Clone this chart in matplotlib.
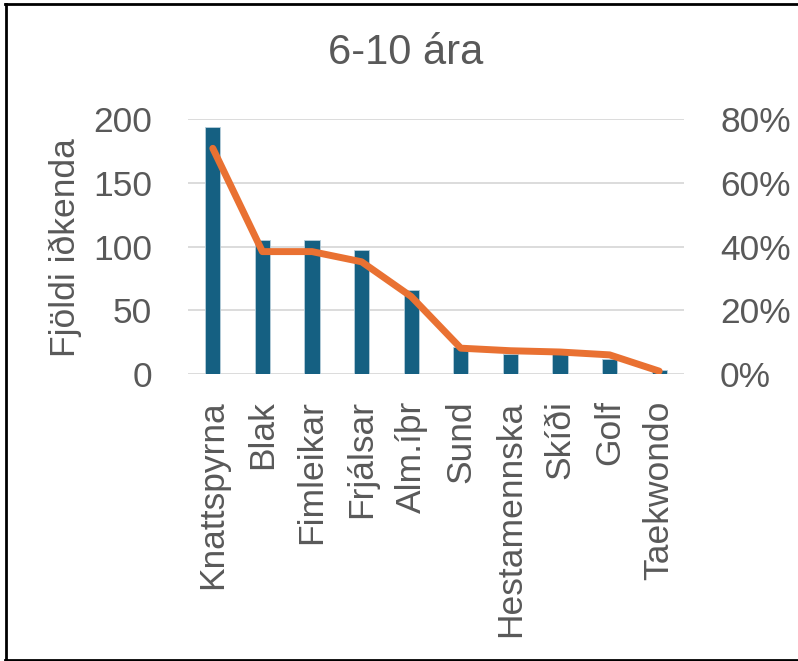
import numpy as np
import matplotlib
matplotlib.use("Agg")
import matplotlib.pyplot as plt
from matplotlib.ticker import FuncFormatter
from matplotlib.lines import Line2D

plt.rcParams['font.family'] = ['Liberation Sans', 'DejaVu Sans']

greinar = ['Knattspyrna', 'Blak', 'Fimleikar', 'Frjálsar', 'Alm.íþr',
           'Sund', 'Hestamennska', 'Skíði', 'Golf', 'Taekwondo']
idkendur = [194, 105, 105, 97, 66, 21, 16, 16, 12, 3]
hlutfall = [0.708, 0.384, 0.384, 0.352, 0.243, 0.081, 0.073, 0.069, 0.060, 0.009]

gray = '#595959'
blue = '#156082'
orange = '#E97132'

fig = plt.figure(figsize=(7.98, 6.61), dpi=100)
ax = fig.add_axes([188/798, 1-374/661, 496/798, 255/661])
x = np.arange(len(greinar))

ax.bar(x, idkendur, width=0.31, color=blue, edgecolor='#b8cfdb', linewidth=0.6, zorder=2)
ax.set_xlim(-0.5, len(greinar)-0.5)
ax.set_ylim(0, 200)
ax.set_yticks([0, 50, 100, 150, 200])
ax.grid(axis='y', color='#d9d9d9', linewidth=1.3, zorder=0)
ax.set_xticks(x)
ax.set_xticklabels(greinar, rotation=90, fontsize=25.5, color=gray)
ax.tick_params(axis='x', length=0, pad=19)
ax.tick_params(axis='y', length=0, pad=26, labelsize=25.5, labelcolor=gray)
for s in ax.spines.values():
    s.set_visible(False)

ax2 = ax.twinx()
ax2.plot(x, hlutfall, color=orange, linewidth=5, solid_capstyle='round',
         solid_joinstyle='round', zorder=3)
ax2.set_ylim(0, 0.8)
ax2.set_yticks([0, 0.2, 0.4, 0.6, 0.8])
ax2.yaxis.set_major_formatter(FuncFormatter(lambda v, p: f'{v*100:.0f}%'))
ax2.tick_params(axis='y', length=0, pad=26, labelsize=25.5, labelcolor=gray)
for s in ax2.spines.values():
    s.set_visible(False)

fig.text(406/798, 1-53/661, '6-10 ára', ha='center', va='center', fontsize=30, color=gray)
fig.text(65/798, 1-248/661, 'Fjöldi iðkenda', rotation=90, ha='center', va='center',
         fontsize=25.5, color=gray)

# ramminn utan um
fig.add_artist(Line2D([6/798, 6/798], [1-4/661, 1-659/661], color='black', lw=2))
fig.add_artist(Line2D([5/798, 1], [1-3.5/661, 1-3.5/661], color='black', lw=2))
fig.add_artist(Line2D([5/798, 1], [1-659.5/661, 1-659.5/661], color='black', lw=2))

fig.savefig('out.png', dpi=100)
